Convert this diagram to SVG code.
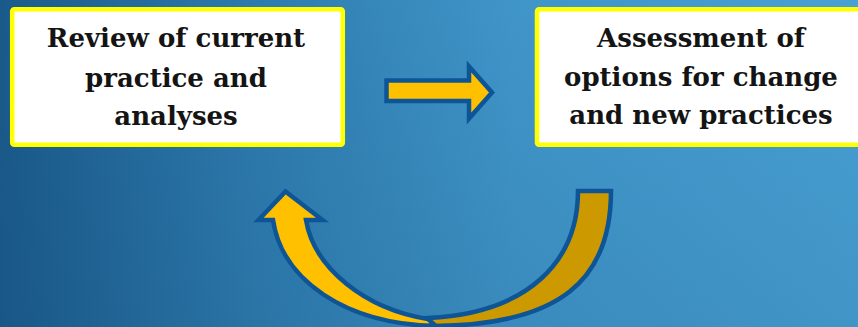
<svg xmlns="http://www.w3.org/2000/svg" width="858" height="327" viewBox="0 0 858 327">
  <defs>
    <linearGradient id="bg" x1="0" y1="0" x2="1" y2="0">
      <stop offset="0" stop-color="#1a5a8a"/>
      <stop offset="0.3" stop-color="#2e7bae"/>
      <stop offset="0.6" stop-color="#4095c8"/>
      <stop offset="1" stop-color="#48a0d3"/>
    </linearGradient>
    <linearGradient id="shade" x1="0" y1="0" x2="0" y2="1">
      <stop offset="0" stop-color="#0f3f6a" stop-opacity="0"/>
      <stop offset="1" stop-color="#0f3f6a" stop-opacity="0.12"/>
    </linearGradient>
    <style>
      .box { fill: #ffffff; stroke: #ffff00; stroke-width: 4.5; }
      .lbl { font-family: "DejaVu Serif", "Liberation Serif", serif; font-weight: bold; font-size: 26px; fill: #141414; text-anchor: middle; }
      .arr { stroke: #0d5596; stroke-width: 4.5; stroke-linejoin: miter; }
    </style>
  </defs>
  <rect x="0" y="0" width="858" height="327" fill="url(#bg)"/>
  <rect x="0" y="0" width="858" height="327" fill="url(#shade)"/>

  <g id="node-review">
    <rect class="box" x="12.2" y="9.2" width="330.6" height="135.6" rx="2"/>
    <text class="lbl" x="176" y="47">Review of current</text>
    <text class="lbl" x="176" y="87">practice and</text>
    <text class="lbl" x="176" y="125">analyses</text>
  </g>

  <g id="node-assessment">
    <rect class="box" x="537" y="9.2" width="331" height="135.6" rx="2"/>
    <text class="lbl" x="701" y="47">Assessment of</text>
    <text class="lbl" x="701" y="86">options for change</text>
    <text class="lbl" x="701" y="124">and new practices</text>
  </g>

  <g id="connectors">
    <polygon class="arr" fill="#ffc000" points="386.5,80.5 469,80.5 469,66.5 492,92.5 469,118.5 469,101 386.5,101"/>
    <path class="arr" fill="#cc9900" d="M578,191 L611,191 C611,280 560,325 434,326 L428,318 C530,313 578,260 578,191 Z"/>
    <path class="arr" fill="#ffc000" d="M306,220 C314,268 365,309 428,319 L436,326 C345,324 282,280 273,220 L258.5,220 L285.5,191.5 L322.5,220 Z"/>
  </g>
</svg>
